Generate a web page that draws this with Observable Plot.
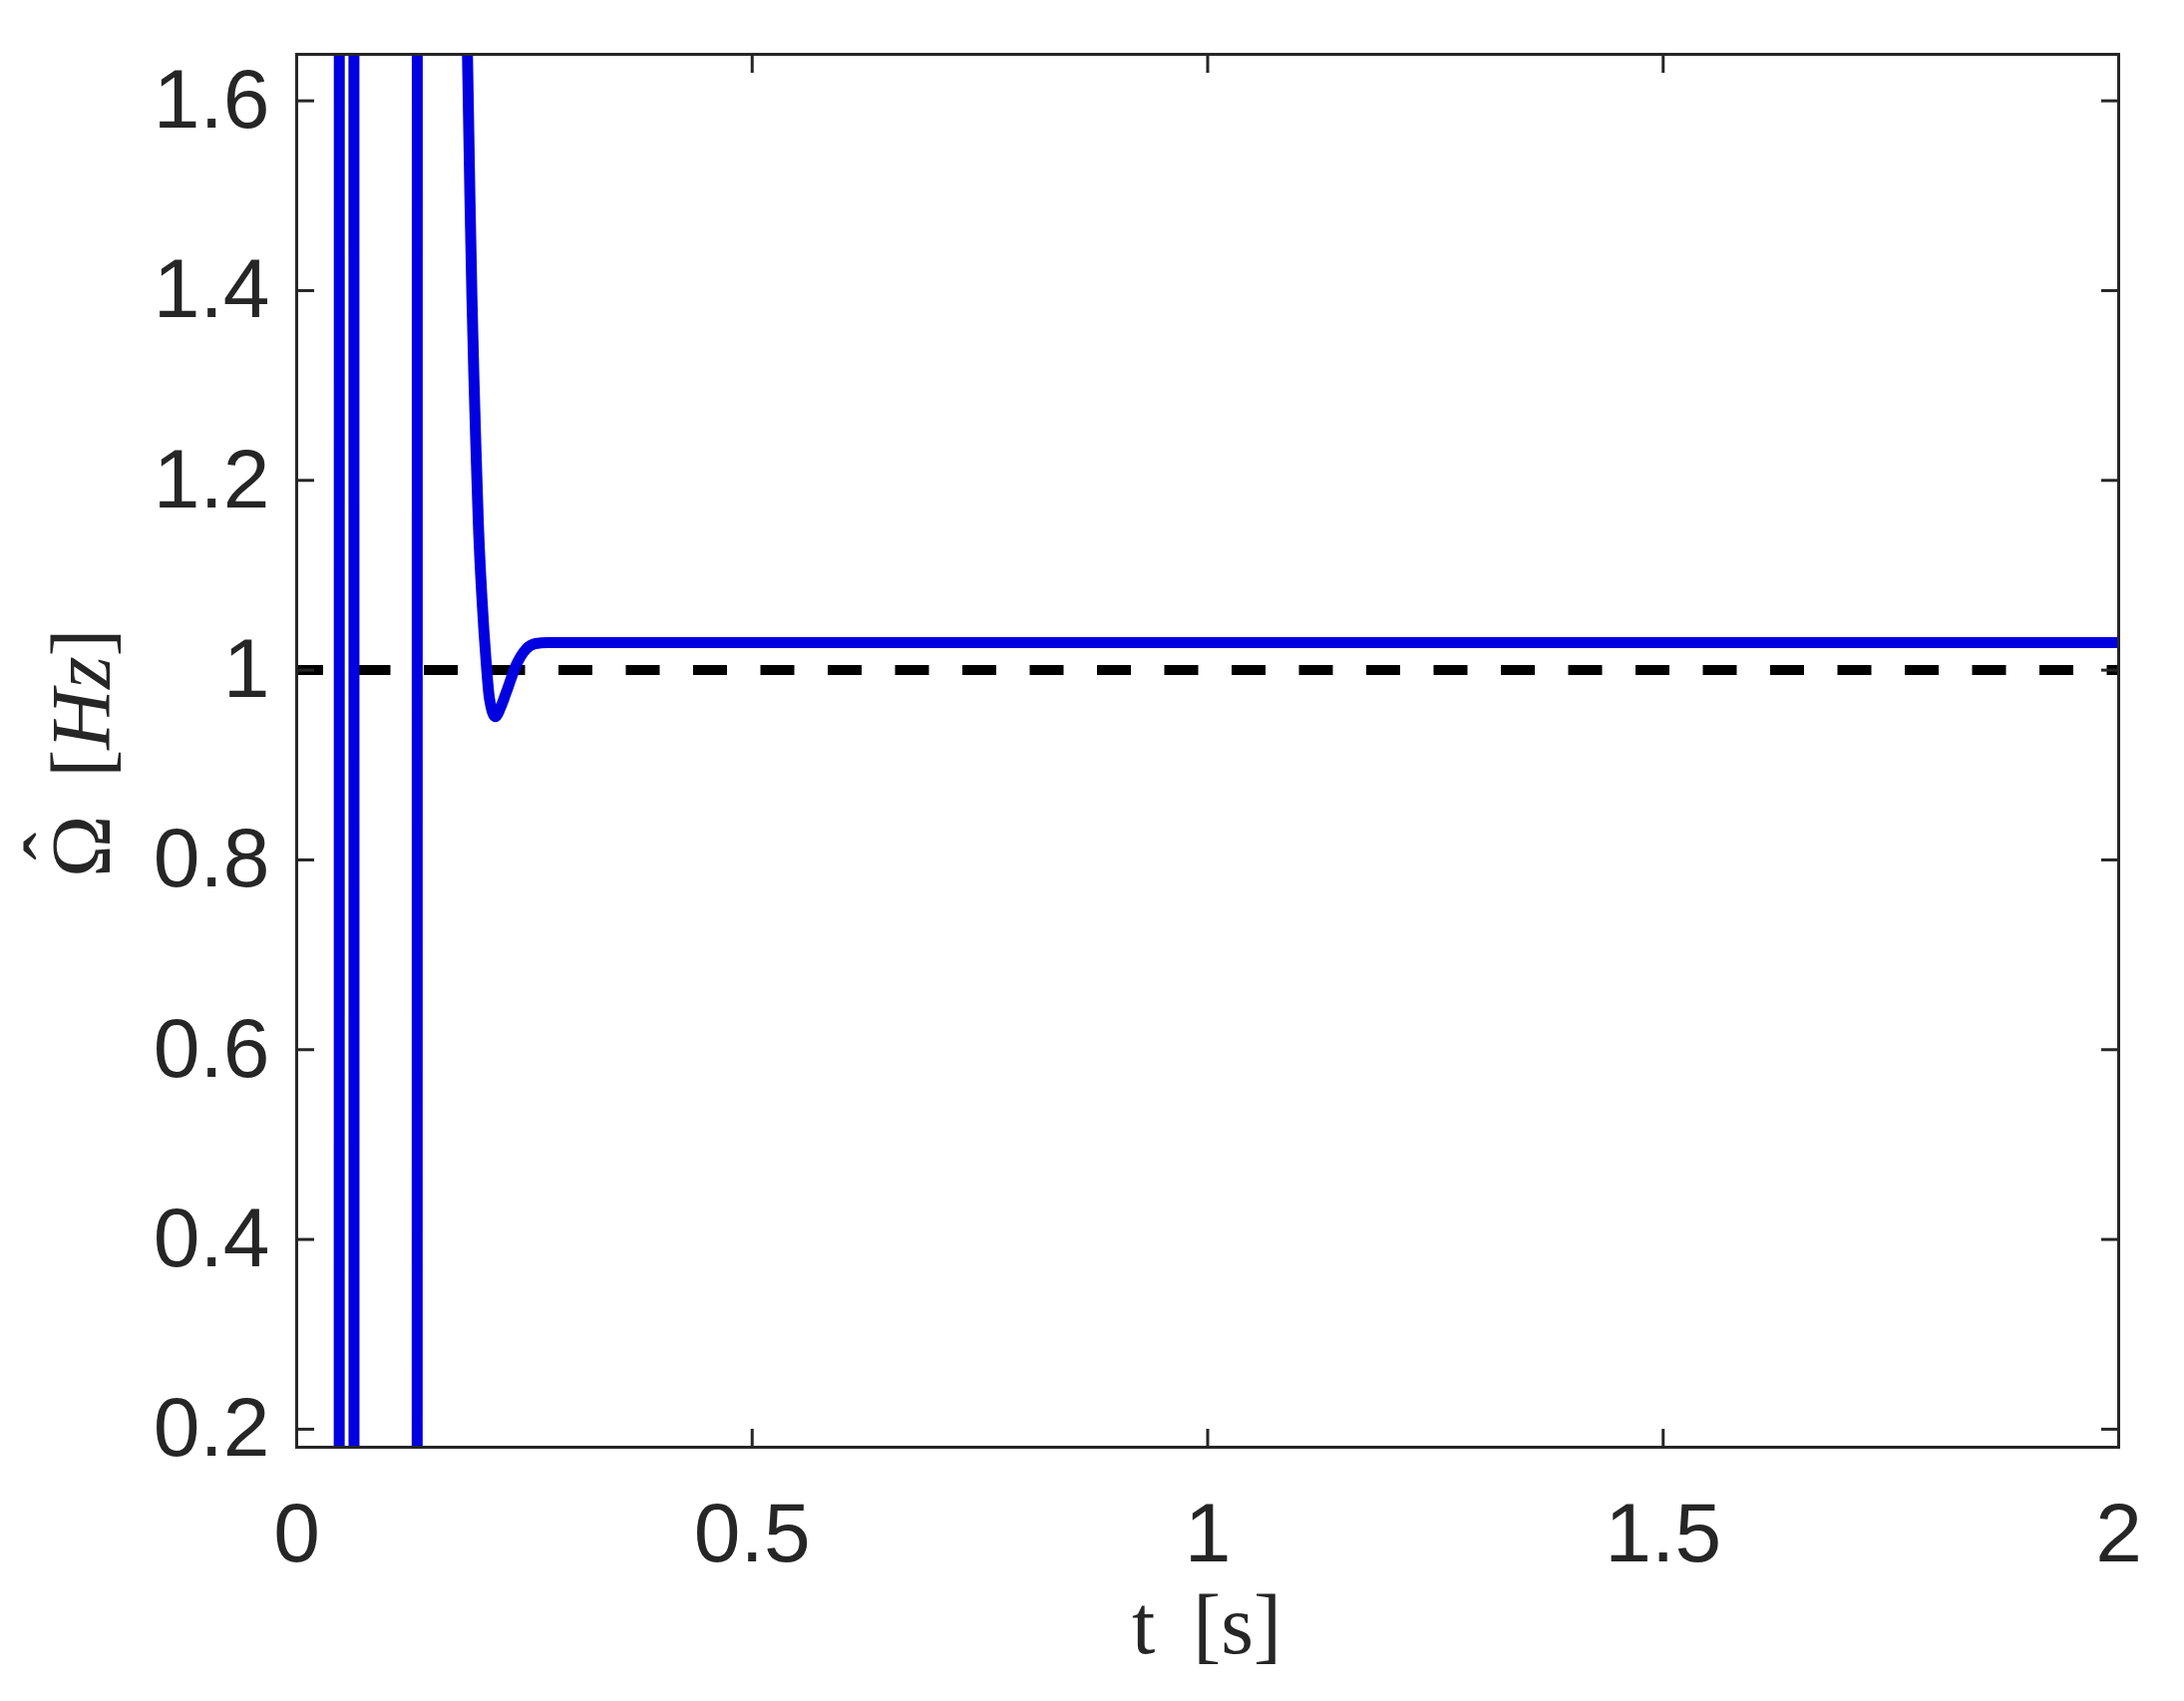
<!DOCTYPE html>
<html>
<head>
<meta charset="utf-8">
<script src="https://cdn.jsdelivr.net/npm/d3@7"></script>
<script src="https://cdn.jsdelivr.net/npm/@observablehq/plot@0.6"></script>
<style>html,body{margin:0;padding:0;background:#fff;}</style>
</head>
<body>
<div id="chart"></div>
<script>
// Time samples [s] and estimated frequency values [Hz] (extremes are off-scale)
const tValues = [0, 0.045, 0.0482, 0.055, 0.0615, 0.0645, 0.100, 0.1305, 0.1340, 0.160, 0.1770,
  0.1875, 0.1902, 0.1924, 0.1946, 0.1968, 0.1995, 0.2034, 0.2077, 0.2116, 0.2181, 0.2235,
  0.2298, 0.2408, 0.2517, 0.2620, 0.2750, 0.3000, 0.5, 1.0, 1.5, 2.0];
const omegaValues = [0, -25, 25, 40, 25, -25, -45, -25, 25, 35, 2.2,
  1.647, 1.496, 1.391, 1.306, 1.233, 1.152, 1.075, 1.012, 0.970, 0.951, 0.960,
  0.976, 1.005, 1.022, 1.028, 1.029, 1.029, 1.029, 1.029, 1.029, 1.029];
const referenceValue = [1];
const xTicks = [0, 0.5, 1, 1.5, 2];
const yTicks = [0.2, 0.4, 0.6, 0.8, 1, 1.2, 1.4, 1.6];
const xDomain = [0, 2];
const yDomain = [0.181, 1.649];
const xLabelParts = ["t", " \u2009[s]"];
const yLabelParts = ["\u03A9", " \u2009[", "Hz", "]"];
const hatGlyph = "\u02C6";

const series = tValues.map((t, i) => ({t, v: omegaValues[i]}));
const ink = "#262626";
const fmt = d => String(d);

const chart = Plot.plot({
  width: 2190,
  height: 1706,
  marginLeft: 297,
  marginRight: 66,
  marginTop: 54,
  marginBottom: 255,
  style: {fontFamily: "Liberation Sans, Arial, sans-serif", background: "#fff", color: ink},
  x: {domain: xDomain},
  y: {domain: yDomain},
  marks: [
    Plot.ruleY(referenceValue, {stroke: "#000", strokeWidth: 10, strokeDasharray: "34,33.5", strokeDashoffset: 7}),
    Plot.line(series, {x: "t", y: "v", stroke: "#0000e0", strokeWidth: 11, curve: "monotone-x", clip: true}),
    Plot.frame({stroke: ink, strokeWidth: 3}),
    Plot.axisX({ticks: xTicks, tickFormat: fmt, anchor: "bottom", tickSize: 0, tickPadding: 55, fontSize: 84, fill: ink, label: null}),
    Plot.axisX({ticks: xTicks, anchor: "bottom", tickSize: 18, dy: -18, fill: "none", stroke: ink, strokeWidth: 3}),
    Plot.axisX({ticks: xTicks, anchor: "top", tickSize: 18, dy: 18, fill: "none", stroke: ink, strokeWidth: 3}),
    Plot.axisY({ticks: yTicks, tickFormat: fmt, anchor: "left", tickSize: 0, tickPadding: 27, fontSize: 84, fill: ink, label: null}),
    Plot.axisY({ticks: yTicks, anchor: "left", tickSize: 18, dx: 18, fill: "none", stroke: ink, strokeWidth: 3}),
    Plot.axisY({ticks: yTicks, anchor: "right", tickSize: 18, dx: -18, fill: "none", stroke: ink, strokeWidth: 3})
  ]
});
document.getElementById("chart").append(chart);

const svg = d3.select(chart);
const serif = "Liberation Serif, Times New Roman, serif";

// x axis title
const xl = svg.append("text")
  .attr("x", 1210).attr("y", 1658)
  .attr("text-anchor", "middle")
  .attr("font-family", serif).attr("font-size", 84).attr("fill", ink);
xl.append("tspan").text(xLabelParts[0]);
xl.append("tspan").text(xLabelParts[1]);

// y axis title (rotated)
const yg = svg.append("g").attr("transform", "translate(110,0) rotate(-90)");
const yt = yg.append("text")
  .attr("x", -880).attr("y", 0)
  .attr("text-anchor", "start")
  .attr("font-family", serif).attr("font-size", 84).attr("fill", ink);
yt.append("tspan").text(yLabelParts[0]);
yt.append("tspan").text(yLabelParts[1]);
yt.append("tspan").attr("font-style", "italic").text(yLabelParts[2]);
yt.append("tspan").text(yLabelParts[3]);
const omegaW = yt.node().getSubStringLength(0, 1);
yg.append("text")
  .attr("x", -880 + omegaW / 2).attr("y", -28)
  .attr("text-anchor", "middle")
  .attr("font-family", serif).attr("font-size", 84).attr("fill", ink)
  .text(hatGlyph);
</script>
</body>
</html>
